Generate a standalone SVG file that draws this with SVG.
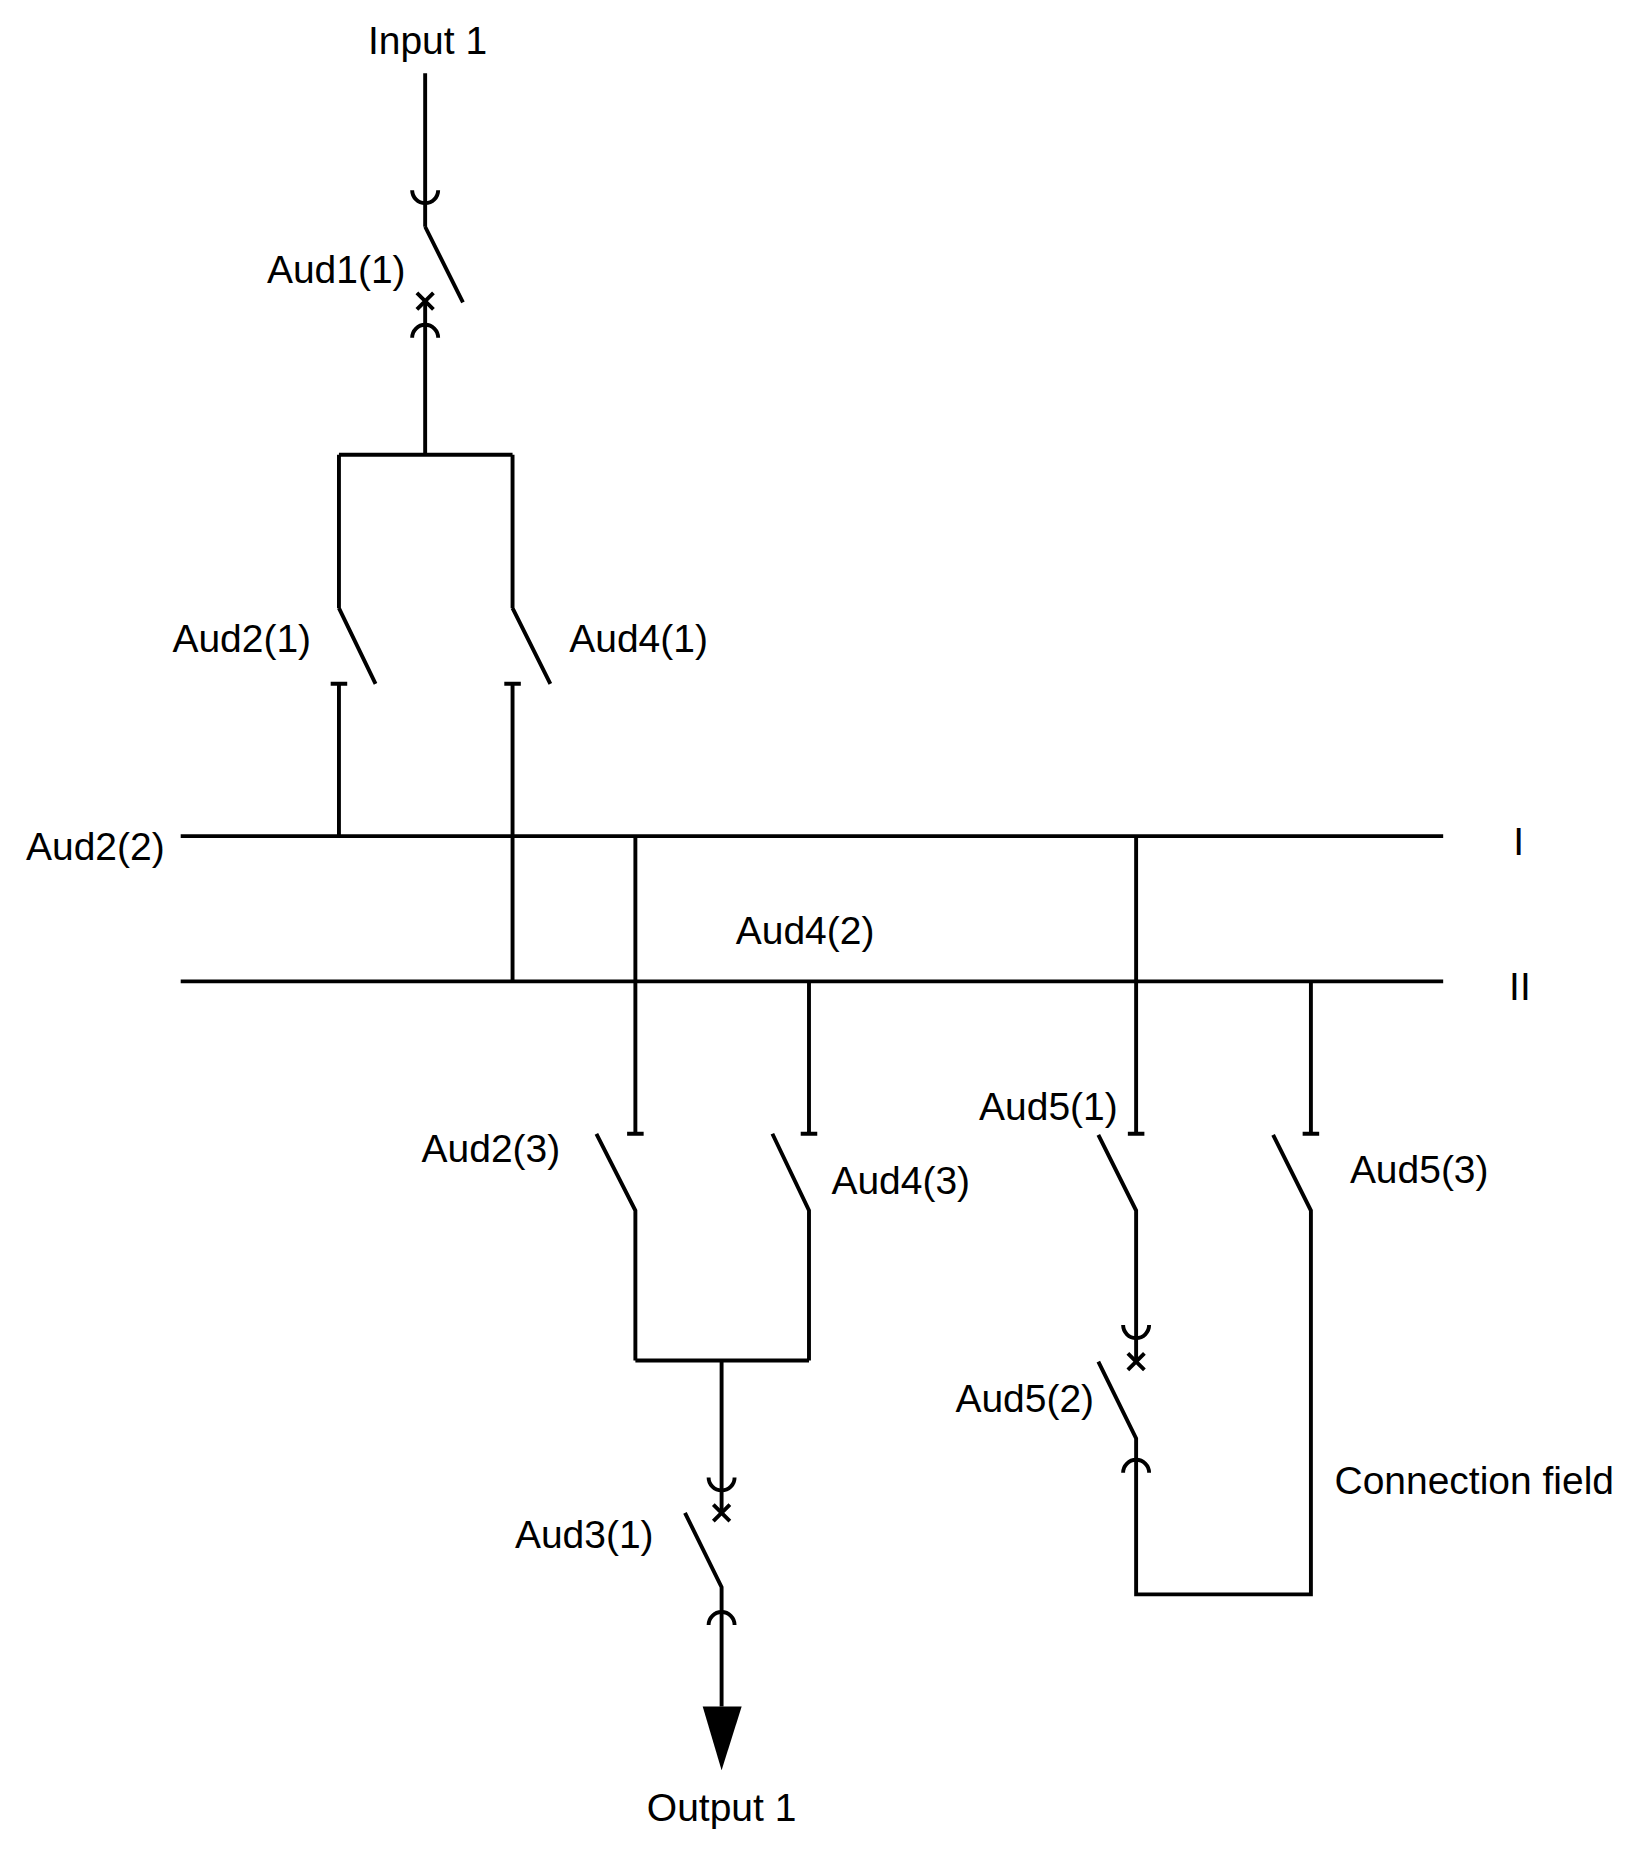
<svg xmlns="http://www.w3.org/2000/svg" width="1648" height="1852" viewBox="0 0 1648 1852">
<style>
.l{stroke:#000;stroke-width:3.3;fill:none}
.t{font-family:"Liberation Sans",Arial,sans-serif;font-size:33px;fill:#000}
</style>
<rect width="1648" height="1852" fill="#fff"/>
<g transform="scale(1.181)">
<g id="connectors" class="l">
<path d="M360,62V192M392,256L360,192M360,255V385M287,385H434M287,385V515M318,579L287,515M280,579H294M287,579V708M434,385V515M466,579L434,515M427,579H441M434,579V831"/>
<path d="M153,708H1222M153,831H1222"/>
<path d="M538,708V960M531,960H545M505,960L538,1025V1152M685,831V960M678,960H692M654,960L685,1025V1152M538,1152H685M611,1152V1281M580,1281L611,1344V1445"/>
<path d="M962,708V960M955,960H969M930,961L962,1025V1153M930,1153L962,1218V1350H1110V1025L1078,961M1110,831V960M1103,960H1117"/>
</g>
<g id="Aud1" class="l"><path d="M349,161A11,11 0 0 0 371,161M353,248L367,262M367,248L353,262M349,286A11,11 0 0 1 371,286"/></g>
<g id="Aud5_2" class="l"><path d="M951,1122A11,11 0 0 0 973,1122M955,1146L969,1160M969,1146L955,1160M951,1247A11,11 0 0 1 973,1247"/></g>
<g id="Aud3" class="l"><path d="M600,1251A11,11 0 0 0 622,1251M604,1274L618,1288M618,1274L604,1288M600,1376A11,11 0 0 1 622,1376"/></g>
<g id="output"><path d="M595,1445H628L611,1499Z" fill="#000"/></g>
<g id="labels" class="t">
<text x="362" y="46" text-anchor="middle">Input 1</text>
<text x="226" y="240">Aud1(1)</text>
<text x="146" y="552">Aud2(1)</text>
<text x="482" y="552">Aud4(1)</text>
<text x="22" y="728">Aud2(2)</text>
<text x="1286" y="724" text-anchor="middle">I</text>
<text x="1287" y="847" text-anchor="middle">II</text>
<text x="623" y="799">Aud4(2)</text>
<text x="357" y="984">Aud2(3)</text>
<text x="704" y="1011">Aud4(3)</text>
<text x="829" y="948">Aud5(1)</text>
<text x="1143" y="1002">Aud5(3)</text>
<text x="809" y="1196">Aud5(2)</text>
<text x="1130" y="1265">Connection field</text>
<text x="436" y="1311">Aud3(1)</text>
<text x="611" y="1542" text-anchor="middle">Output 1</text>
</g>
</g>
</svg>
